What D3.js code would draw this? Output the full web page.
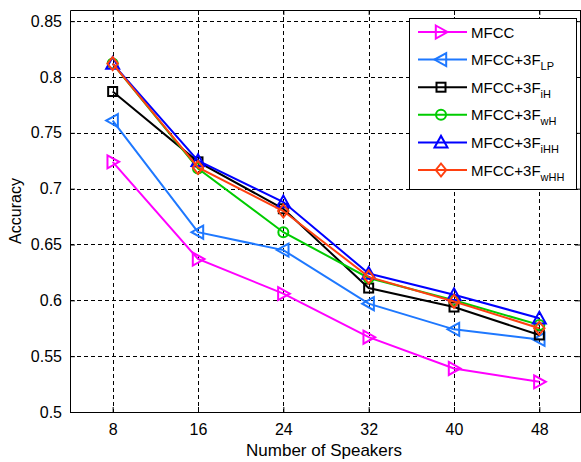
<!DOCTYPE html>
<html>
<head>
<meta charset="utf-8">
<script src="https://cdn.jsdelivr.net/npm/d3@7"></script>
<style>
  body { margin: 0; background: #fff; }
  text { font-family: "Liberation Sans", Arial, sans-serif; fill: #000; }
</style>
</head>
<body>
<div class="chart"></div>
<script>
const speakers = [8, 16, 24, 32, 40, 48];
const yTicks = [0.5, 0.55, 0.6, 0.65, 0.7, 0.75, 0.8, 0.85];

const mfcc  = [0.724, 0.637, 0.606, 0.567, 0.539, 0.527];
const fLP   = [0.761, 0.661, 0.645, 0.597, 0.574, 0.565];
const fiH   = [0.787, 0.724, 0.682, 0.611, 0.594, 0.569];
const fwH   = [0.812, 0.718, 0.661, 0.620, 0.600, 0.578];
const fiHH  = [0.812, 0.725, 0.688, 0.624, 0.605, 0.584];
const fwHH  = [0.812, 0.719, 0.680, 0.621, 0.599, 0.575];

const series = [
  { name: "MFCC", sub: "", values: mfcc, color: "#ff00ff", marker: "right" },
  { name: "MFCC+3F", sub: "LP", values: fLP, color: "#1e78ff", marker: "left" },
  { name: "MFCC+3F", sub: "iH", values: fiH, color: "#000000", marker: "square" },
  { name: "MFCC+3F", sub: "wH", values: fwH, color: "#00cc00", marker: "circle" },
  { name: "MFCC+3F", sub: "iHH", values: fiHH, color: "#0000ff", marker: "up" },
  { name: "MFCC+3F", sub: "wHH", values: fwHH, color: "#ff4010", marker: "diamond" }
];

const width = 581, height = 462;
const margin = { top: 10, right: 0, bottom: 50, left: 70 };

const x = d3.scaleLinear().domain([4, 52]).range([margin.left, 582]);
const y = d3.scaleLinear().domain([0.5, 0.86]).range([height - margin.bottom, margin.top]);

const svg = d3.select(".chart").append("svg")
  .attr("width", width)
  .attr("height", height);

// grid
const grid = svg.append("g").attr("stroke", "#000").attr("stroke-dasharray", "4,3").attr("stroke-width", 1);
grid.selectAll("line.gx").data(speakers).enter().append("line")
  .attr("x1", d => Math.round(x(d)) + 0.5).attr("x2", d => Math.round(x(d)) + 0.5)
  .attr("y1", y(0.86)).attr("y2", y(0.5));
grid.selectAll("line.gy").data(yTicks.slice(1)).enter().append("line")
  .attr("y1", d => Math.round(y(d)) + 0.5).attr("y2", d => Math.round(y(d)) + 0.5)
  .attr("x1", x(4)).attr("x2", x(52));

// axes (MATLAB box style, ticks inward)
const fmt = d => d3.format("")(+d.toFixed(2));
svg.append("g")
  .attr("transform", `translate(0,${y(0.5)})`)
  .call(d3.axisBottom(x).tickValues(speakers).tickSize(-5).tickPadding(12).tickSizeOuter(0))
  .call(g => g.selectAll("text").attr("font-size", 16).attr("font-family", "Liberation Sans, Arial, sans-serif"));
svg.append("g")
  .attr("transform", `translate(${x(4)},0)`)
  .call(d3.axisLeft(y).tickValues(yTicks).tickFormat(fmt).tickSize(-5).tickPadding(8).tickSizeOuter(0))
  .call(g => g.selectAll("text").attr("font-size", 16).attr("font-family", "Liberation Sans, Arial, sans-serif"));
svg.append("g")
  .attr("transform", `translate(0,${y(0.86)})`)
  .call(d3.axisTop(x).tickValues(speakers).tickSize(-5).tickFormat("").tickSizeOuter(0));
svg.append("g")
  .attr("transform", `translate(${x(52) - 2},0)`)
  .call(d3.axisRight(y).tickValues(yTicks).tickSize(-5).tickFormat("").tickSizeOuter(0));
svg.selectAll(".domain").attr("stroke", "#000");

// axis titles
svg.append("text")
  .attr("x", (x(4) + x(52)) / 2 - 2).attr("y", 456)
  .attr("text-anchor", "middle").attr("font-size", 17)
  .text("Number of Speakers");
svg.append("text")
  .attr("transform", `translate(21,${(y(0.5) + y(0.86)) / 2}) rotate(-90)`)
  .attr("text-anchor", "middle").attr("font-size", 16)
  .text("Accuracy");

// markers
function drawMarker(g, type, color) {
  const s = 6.5;
  let p;
  if (type === "right") p = g.append("path").attr("d", `M${-s * 0.8},${-s} L${s},0 L${-s * 0.8},${s} Z`);
  else if (type === "left") p = g.append("path").attr("d", `M${s * 0.8},${-s} L${-s},0 L${s * 0.8},${s} Z`);
  else if (type === "up") p = g.append("path").attr("d", `M${-s},${s * 0.8} L0,${-s} L${s},${s * 0.8} Z`);
  else if (type === "square") p = g.append("rect").attr("x", -4.5).attr("y", -4.5).attr("width", 9).attr("height", 9);
  else if (type === "circle") p = g.append("circle").attr("r", 5);
  else p = g.append("path").attr("d", `M0,${-s} L${s * 0.8},0 L0,${s} L${-s * 0.8},0 Z`);
  p.attr("fill", "none").attr("stroke", color).attr("stroke-width", 2);
}

const line = d3.line().x((d, i) => x(speakers[i])).y(d => y(d));

series.forEach(s => {
  const g = svg.append("g");
  g.append("path")
    .attr("d", line(s.values))
    .attr("fill", "none")
    .attr("stroke", s.color)
    .attr("stroke-width", 2);
  s.values.forEach((v, i) => {
    const m = g.append("g").attr("transform", `translate(${x(speakers[i])},${y(v)})`);
    drawMarker(m, s.marker, s.color);
  });
});

// legend
const lg = svg.append("g");
lg.append("rect")
  .attr("x", 409.5).attr("y", 18.5).attr("width", 167).attr("height", 171)
  .attr("fill", "#fff").attr("stroke", "#000").attr("stroke-width", 1);
series.forEach((s, i) => {
  const cy = 32 + i * 27.6;
  const row = lg.append("g").attr("transform", `translate(0,${cy})`);
  row.append("line").attr("x1", 418).attr("x2", 467).attr("y1", 0).attr("y2", 0)
    .attr("stroke", s.color).attr("stroke-width", 2);
  const m = row.append("g").attr("transform", "translate(441,0)");
  drawMarker(m, s.marker, s.color);
  const t = row.append("text").attr("x", 471).attr("y", 5.5).attr("font-size", 15).text(s.name);
  if (s.sub) t.append("tspan").attr("dy", 5).attr("font-size", 11).text(s.sub);
});
</script>
</body>
</html>
